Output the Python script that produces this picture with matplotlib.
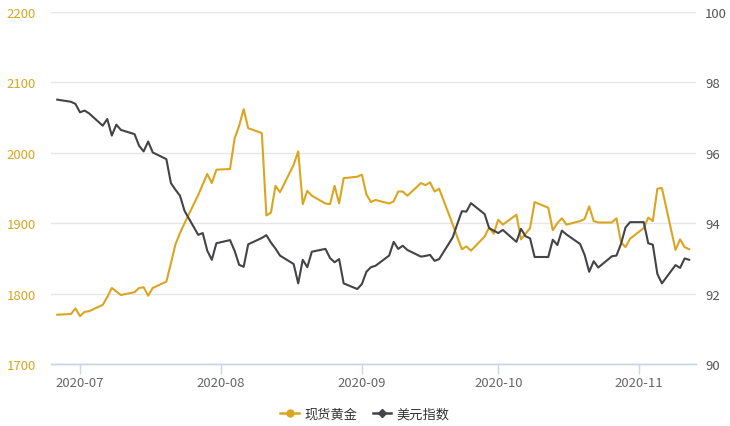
import matplotlib
matplotlib.use("Agg")
import matplotlib.pyplot as plt
import matplotlib.dates as mdates
from matplotlib.lines import Line2D
import pandas as pd

plt.rcParams['font.family'] = ['Noto Sans CJK SC', 'DejaVu Sans']

gold_dates = [
    "2020-06-26", "2020-06-29", "2020-06-30", "2020-07-01", "2020-07-02", "2020-07-03",
    "2020-07-06", "2020-07-07", "2020-07-08", "2020-07-09", "2020-07-10",
    "2020-07-13", "2020-07-14", "2020-07-15", "2020-07-16", "2020-07-17",
    "2020-07-20", "2020-07-21", "2020-07-22", "2020-07-23", "2020-07-24",
    "2020-07-27", "2020-07-28", "2020-07-29", "2020-07-30", "2020-07-31",
    "2020-08-03", "2020-08-04", "2020-08-05", "2020-08-06", "2020-08-07",
    "2020-08-10", "2020-08-11", "2020-08-12", "2020-08-13", "2020-08-14",
    "2020-08-17", "2020-08-18", "2020-08-19", "2020-08-20", "2020-08-21",
    "2020-08-24", "2020-08-25", "2020-08-26", "2020-08-27", "2020-08-28",
    "2020-08-31", "2020-09-01", "2020-09-02", "2020-09-03", "2020-09-04",
    "2020-09-07", "2020-09-08", "2020-09-09", "2020-09-10", "2020-09-11",
    "2020-09-14", "2020-09-15", "2020-09-16", "2020-09-17", "2020-09-18",
    "2020-09-21", "2020-09-22", "2020-09-23", "2020-09-24", "2020-09-25",
    "2020-09-28", "2020-09-29", "2020-09-30", "2020-10-01", "2020-10-02",
    "2020-10-05", "2020-10-06", "2020-10-07", "2020-10-08", "2020-10-09",
    "2020-10-12", "2020-10-13", "2020-10-14", "2020-10-15", "2020-10-16",
    "2020-10-19", "2020-10-20", "2020-10-21", "2020-10-22", "2020-10-23",
    "2020-10-26", "2020-10-27", "2020-10-28", "2020-10-29", "2020-10-30",
    "2020-11-02", "2020-11-03", "2020-11-04", "2020-11-05", "2020-11-06",
    "2020-11-09", "2020-11-10", "2020-11-11", "2020-11-12",
]
gold_values = [
    1770, 1771, 1779, 1768, 1774, 1775,
    1784, 1795, 1808, 1803, 1798,
    1802, 1808, 1809, 1797, 1808,
    1817, 1843, 1870, 1886, 1900,
    1940, 1955, 1970, 1957, 1976,
    1977, 2020, 2038, 2062, 2035,
    2028, 1911, 1915, 1953, 1944,
    1983, 2002, 1927, 1946, 1939,
    1928, 1927, 1953, 1928, 1964,
    1966, 1969, 1941, 1930, 1933,
    1928, 1931, 1945, 1945, 1939,
    1957, 1954, 1958, 1945, 1949,
    1898, 1880, 1863, 1867, 1861,
    1881, 1894, 1885, 1905, 1898,
    1912, 1877, 1885, 1893, 1930,
    1922, 1890, 1900, 1907, 1898,
    1903, 1906, 1924, 1903, 1901,
    1901, 1907, 1873, 1866, 1878,
    1893, 1908, 1903, 1949, 1950,
    1862, 1877, 1866, 1863,
]

usd_dates = gold_dates
usd_values = [
    97.51, 97.45, 97.39, 97.15, 97.20, 97.12,
    96.77, 96.96, 96.49, 96.80, 96.65,
    96.53, 96.20, 96.04, 96.32, 96.01,
    95.82, 95.14, 94.95, 94.78, 94.35,
    93.67, 93.72, 93.22, 92.96, 93.43,
    93.52, 93.22, 92.82, 92.76, 93.40,
    93.58, 93.66, 93.45, 93.28, 93.08,
    92.84, 92.29, 92.96, 92.75, 93.19,
    93.27, 93.01, 92.89, 92.98, 92.29,
    92.13, 92.27, 92.62, 92.75, 92.79,
    93.08, 93.47, 93.27, 93.36, 93.24,
    93.05, 93.07, 93.10, 92.93, 92.98,
    93.60, 93.98, 94.34, 94.33, 94.57,
    94.26, 93.86, 93.79, 93.72, 93.81,
    93.47, 93.84, 93.63, 93.57, 93.04,
    93.04, 93.53, 93.38, 93.79, 93.68,
    93.41, 93.10, 92.62, 92.92, 92.74,
    93.06, 93.08, 93.41, 93.88, 94.03,
    94.03, 93.43, 93.39, 92.56, 92.29,
    92.81, 92.73, 93.00, 92.96,
]

left_ticks = [1700, 1800, 1900, 2000, 2100, 2200]
right_ticks = [90, 92, 94, 96, 98, 100]
series_names = ["现货黄金", "美元指数"]

GOLD = "#DAA520"
DARK = "#434348"

fig = plt.figure(figsize=(7.30, 4.27), dpi=100)
ax = fig.add_axes([51/730, 62/427, 645/730, 352/427])
ax2 = ax.twinx()

gd = pd.to_datetime(gold_dates)
ud = pd.to_datetime(usd_dates)

ax.plot(gd, gold_values, color=GOLD, lw=1.5, zorder=3)
ax2.plot(ud, usd_values, color=DARK, lw=1.5, zorder=3)

ax.set_xlim(pd.Timestamp("2020-06-24 15:00"), pd.Timestamp("2020-11-13 12:00"))
ax.set_ylim(1700, 2200)
ax2.set_ylim(90, 100)
ax.set_yticks(left_ticks)
ax2.set_yticks(right_ticks)

ax.grid(axis='y', color='#e6e6e6', lw=1)
ax.set_axisbelow(True)

ax.xaxis.set_major_locator(mdates.MonthLocator())
ax.xaxis.set_major_formatter(mdates.DateFormatter('%Y-%m'))

for a in (ax, ax2):
    for s in ('top', 'left', 'right'):
        a.spines[s].set_visible(False)
    a.spines['bottom'].set_color('#ccd6eb')
    a.spines['bottom'].set_linewidth(1)

ax.tick_params(axis='x', length=7, width=1, color='#ccd6eb', labelcolor='#666666',
               labelsize=9.5, pad=2)
ax.tick_params(axis='y', length=0, labelcolor=GOLD, labelsize=9.5, pad=11)
ax2.tick_params(axis='y', length=0, labelcolor='#555555', labelsize=9.5, pad=6.5)

handles = [
    Line2D([0], [0], color=GOLD, lw=1.8, marker='o', markersize=5),
    Line2D([0], [0], color=DARK, lw=1.8, marker='D', markersize=4.5),
]
fig.legend(handles, series_names, loc='center', bbox_to_anchor=(0.5, 12/427),
           ncol=2, frameon=False, fontsize=9.5, handlelength=1.4, handletextpad=0.4,
           columnspacing=1.2, labelcolor='#333333')

fig.savefig("out.png", dpi=100)
